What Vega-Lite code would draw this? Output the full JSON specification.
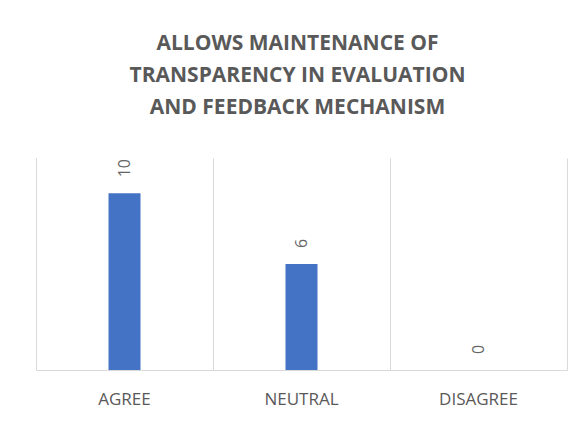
{
  "$schema": "https://vega.github.io/schema/vega-lite/v6.json",
  "width": 531,
  "height": 212,
  "autosize": "none",
  "padding": {"left": 36, "top": 158, "right": 17, "bottom": 51},
  "background": "white",
  "title": {
    "text": ["ALLOWS MAINTENANCE OF", "TRANSPARENCY IN EVALUATION", "AND FEEDBACK MECHANISM"],
    "fontSize": 21,
    "fontWeight": "bold",
    "color": "#595959",
    "font": "Open Sans",
    "lineHeight": 32,
    "anchor": "middle",
    "offset": 40,
    "dx": -4
  },
  "data": {
    "values": [
      {"response": "AGREE", "count": 10},
      {"response": "NEUTRAL", "count": 6},
      {"response": "DISAGREE", "count": 0}
    ]
  },
  "encoding": {
    "x": {
      "field": "response",
      "type": "nominal",
      "sort": null,
      "scale": {"paddingInner": 0, "paddingOuter": 0},
      "axis": {
        "title": null,
        "labelAngle": 0,
        "labelFontSize": 17,
        "labelFont": "Open Sans",
        "labelColor": "#595959",
        "labelPadding": 21,
        "ticks": false,
        "domainColor": "#d9d9d9",
        "grid": true,
        "bandPosition": 0,
        "gridColor": "#d9d9d9"
      }
    }
  },
  "layer": [
    {
      "mark": {"type": "bar", "color": "#4472C4", "size": 32},
      "encoding": {
        "y": {
          "field": "count",
          "type": "quantitative",
          "scale": {"domain": [0, 12]},
          "axis": {"title": null, "labels": false, "ticks": false, "grid": false, "domain": true, "domainColor": "#d9d9d9"}
        }
      }
    },
    {
      "mark": {"type": "text", "angle": 270, "align": "left", "baseline": "middle", "dx": 16, "fontSize": 16, "font": "Open Sans", "color": "#666666"},
      "encoding": {
        "y": {
          "field": "count",
          "type": "quantitative",
          "scale": {"domain": [0, 12]},
          "axis": {"orient": "right", "title": null, "labels": false, "ticks": false, "grid": false, "domain": true, "domainColor": "#d9d9d9"}
        },
        "text": {"field": "count", "type": "quantitative"}
      }
    }
  ],
  "resolve": {"axis": {"y": "independent"}},
  "config": {"view": {"stroke": null}}
}
